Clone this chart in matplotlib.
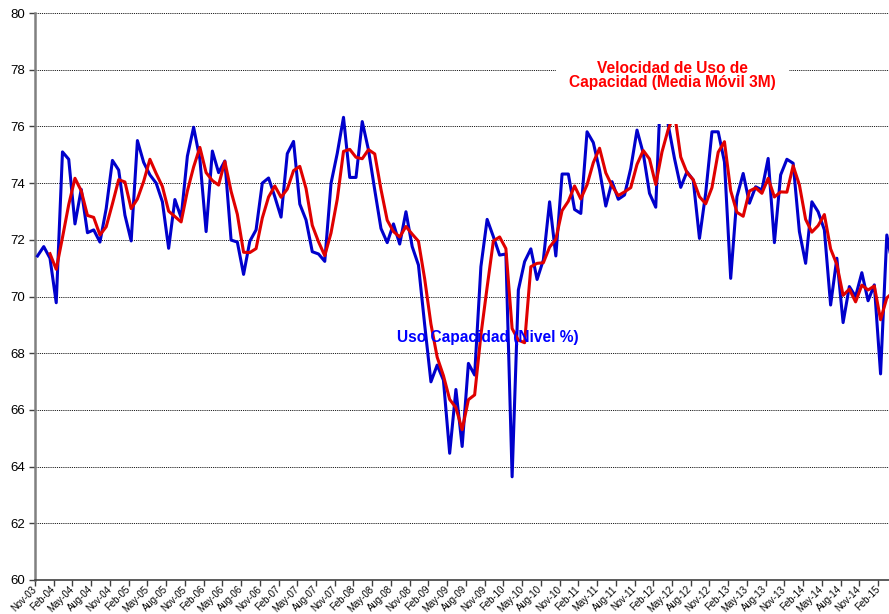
import numpy as np
import pandas as pd
import matplotlib
matplotlib.use("Agg")
import matplotlib.pyplot as plt
from matplotlib.patches import Rectangle

plt.rcParams['font.family'] = ['Liberation Sans', 'DejaVu Sans']

# ---------------- data ----------------
months = pd.date_range('2003-11-01', periods=138, freq='MS').strftime('%b-%y').tolist()

uso_capacidad = [
    71.43, 71.76, 71.35, 69.78, 75.10, 74.84, 72.56, 73.78, 72.25, 72.35,
    71.92, 73.10, 74.80, 74.46, 72.87, 71.96, 75.50, 74.73, 74.29, 74.00,
    73.34, 71.70, 73.42, 72.78, 74.95, 75.97, 74.85, 72.29, 75.13, 74.37,
    74.78, 71.99, 71.92, 70.78, 71.95, 72.35, 74.00, 74.18, 73.52, 72.80,
    75.04, 75.47, 73.26, 72.70, 71.58, 71.50, 71.24, 73.99, 75.05, 76.32,
    74.20, 74.20, 76.17, 75.17, 73.76, 72.40, 71.90, 72.56, 71.85, 72.99,
    71.76, 71.11, 69.00, 66.99, 67.58, 67.05, 64.47, 66.72, 64.71, 67.64,
    67.23, 71.05, 72.72, 72.11, 71.46, 71.50, 63.64, 70.23, 71.23, 71.68,
    70.60, 71.29, 73.34, 71.43, 74.32, 74.32, 73.07, 72.93, 75.81, 75.43,
    74.46, 73.19, 74.05, 73.43, 73.58, 74.52, 75.87, 75.05, 73.64, 73.15,
    78.50, 76.05, 74.87, 73.85, 74.40, 74.11, 72.05, 73.65, 75.81, 75.81,
    74.75, 70.64, 73.52, 74.34, 73.29, 73.87, 73.76, 74.87, 71.90, 74.29,
    74.84, 74.70, 72.29, 71.17, 73.34, 72.99, 72.35, 69.70, 71.35, 69.08,
    70.35, 70.00, 70.84, 69.85, 70.41, 67.27, 72.17, 71.00,
]

media_movil_3m = [
    np.nan, np.nan,
    71.51, 70.96, 72.08, 73.24, 74.17, 73.73, 72.86, 72.79, 72.17, 72.46,
    73.27, 74.12, 74.04, 73.10, 73.44, 74.06, 74.84, 74.34, 73.88, 73.01,
    72.82, 72.63, 73.72, 74.57, 75.26, 74.37, 74.09, 73.93, 74.76, 73.71,
    72.90, 71.56, 71.55, 71.69, 72.77, 73.51, 73.90, 73.50, 73.79, 74.44,
    74.59, 73.81, 72.51, 71.93, 71.44, 72.24, 73.43, 75.12, 75.19, 74.91,
    74.86, 75.18, 75.03, 73.78, 72.69, 72.29, 72.10, 72.47, 72.20, 71.95,
    70.62, 69.03, 67.86, 67.21, 66.37, 66.08, 65.30, 66.36, 66.53, 68.64,
    70.33, 71.96, 72.10, 71.69, 68.87, 68.46, 68.37, 71.05, 71.17, 71.19,
    71.74, 72.02, 73.03, 73.36, 73.90, 73.44, 73.94, 74.72, 75.23, 74.36,
    73.90, 73.56, 73.69, 73.84, 74.66, 75.15, 74.85, 73.95, 75.10, 75.90,
    76.47, 74.92, 74.37, 74.12, 73.52, 73.27, 73.84, 75.09, 75.46, 73.73,
    72.97, 72.83, 73.72, 73.83, 73.64, 74.17, 73.51, 73.69, 73.68, 74.61,
    73.94, 72.72, 72.27, 72.50, 72.89, 71.68, 71.13, 70.04, 70.26, 69.81,
    70.40, 70.23, 70.37, 69.18, 69.95, 70.15,
]

y_ticks = list(range(60, 81, 2))
label_uso = "Uso Capacidad (Nivel %)"
label_media = "Velocidad de Uso de\nCapacidad (Media Móvil 3M)"

# ---------------- figure ----------------
W, H = 889, 614
fig = plt.figure(figsize=(W / 100, H / 100), dpi=100)
ax = fig.add_axes([35 / W, (H - 580) / H, (W - 35) / W, (580 - 13) / H])

x = np.arange(len(uso_capacidad))
ax.plot(x, uso_capacidad, color='#0000CC', lw=2.2, zorder=3,
        solid_joinstyle='round')
ax.plot(x, media_movil_3m, color='#E00000', lw=2.2, zorder=4,
        solid_joinstyle='round')

ax.set_xlim(-0.4, 136.35)
ax.set_ylim(60, 80)
ax.set_yticks(y_ticks)
ax.set_yticklabels([str(v) for v in y_ticks], fontsize=9.5)

tick_idx = x[::3]
ax.set_xticks(tick_idx - 0.4)
ax.set_xticklabels([months[i] for i in tick_idx], fontsize=6.9, rotation=45,
                   ha='right', va='center', rotation_mode='anchor')

ax.yaxis.grid(True, linestyle=(0, (1.2, 1.0)), color='#202020', lw=0.7)
ax.set_axisbelow(True)

for s in ['top', 'right']:
    ax.spines[s].set_visible(False)
ax.spines['left'].set_color('#808080')
ax.spines['left'].set_linewidth(1.8)
ax.spines['bottom'].set_color('#404040')
ax.spines['bottom'].set_linewidth(1.2)
ax.tick_params(axis='y', length=4, width=1, color='#404040', pad=3)
ax.tick_params(axis='x', length=4, width=1, color='#404040', pad=1.5)

# white text box of the moving-average label (hides what lies under it)
ax.add_patch(Rectangle((83.0, 76.07), 37.3, 2.8, facecolor='white',
                       edgecolor='none', zorder=5))
ax.text(101.6, 77.8, label_media, color='#FF0000', fontsize=11.2,
        fontweight='bold', ha='center', va='center', linespacing=0.9,
        zorder=6)
ax.text(72.06, 68.57, label_uso, color='#0000FF', fontsize=11.2,
        fontweight='bold', ha='center', va='center', zorder=6)

fig.savefig('out.png', dpi=100)
